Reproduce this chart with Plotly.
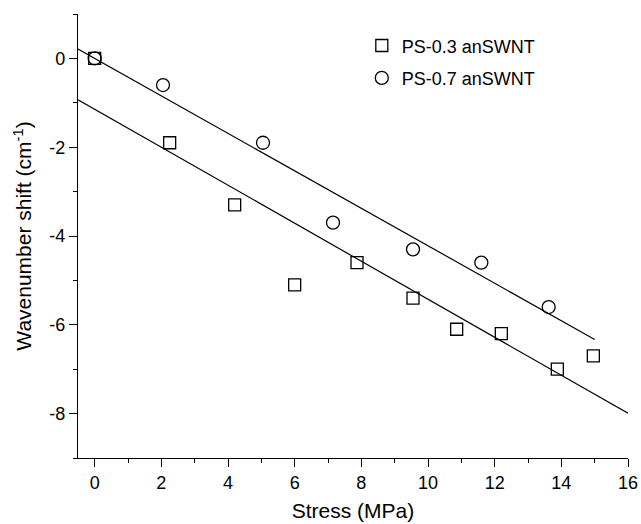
import numpy as np
import plotly.graph_objects as go

# PS-0.3 anSWNT (squares)
stress_03 = [0.0, 2.25, 4.2, 6.0, 7.87, 9.55, 10.86, 12.2, 13.88, 14.96]
shift_03 = [0.0, -1.9, -3.3, -5.1, -4.6, -5.4, -6.1, -6.2, -7.0, -6.7]

# PS-0.7 anSWNT (circles)
stress_07 = [0.0, 2.05, 5.05, 7.15, 9.55, 11.6, 13.62]
shift_07 = [0.0, -0.6, -1.9, -3.7, -4.3, -4.6, -5.6]

# linear fits (slope, intercept, x extent)
fit_03 = {"slope": -0.428, "intercept": -1.144, "x": [-0.5, 16.0]}
fit_07 = {"slope": -0.422, "intercept": 0.0, "x": [-0.5, 15.0]}

# tick labels
x_tickvals = [0, 2, 4, 6, 8, 10, 12, 14, 16]
x_ticktext = ["0", "2", "4", "6", "8", "10", "12", "14", "16"]
y_tickvals = [0, -2, -4, -6, -8]
y_ticktext = ["0", "-2", "-4", "-6", "-8"]

font = "Arial, Liberation Sans, sans-serif"

fig = go.Figure()

for fit in (fit_03, fit_07):
    xs = np.array(fit["x"])
    ys = fit["slope"] * xs + fit["intercept"]
    fig.add_trace(go.Scatter(x=xs, y=ys, mode="lines", showlegend=False,
                             line=dict(color="black", width=1.2), hoverinfo="skip"))

fig.add_trace(go.Scatter(x=stress_03, y=shift_03, mode="markers", name="PS-0.3 anSWNT",
                         legendgroup="a",
                         marker=dict(symbol="square-open", size=12, color="black",
                                     line=dict(width=1.3, color="black"))))
fig.add_trace(go.Scatter(x=stress_07, y=shift_07, mode="markers", name="PS-0.7 anSWNT",
                         legendgroup="b",
                         marker=dict(symbol="circle-open", size=13, color="black",
                                     line=dict(width=1.3, color="black"))))

axis_common = dict(showline=True, linecolor="black", linewidth=1.3, ticks="outside",
                   ticklen=8, tickwidth=1.3, tickcolor="black", showgrid=False,
                   zeroline=False, tickfont=dict(size=18, color="black", family=font),
                   mirror=False, automargin=False)

fig.update_xaxes(range=[-0.5, 16], tickmode="array", tickvals=x_tickvals, ticktext=x_ticktext,
                 minor=dict(ticks="outside", ticklen=4, dtick=1, tick0=0,
                            tickcolor="black", tickwidth=1.3),
                 title=dict(text="Stress (MPa)", font=dict(size=21, color="black", family=font),
                            standoff=11),
                 **axis_common)
fig.update_yaxes(range=[-9, 1], tickmode="array", tickvals=y_tickvals, ticktext=y_ticktext,
                 minor=dict(ticks="outside", ticklen=4, dtick=1, tick0=0,
                            tickcolor="black", tickwidth=1.3),
                 title=dict(text="Wavenumber shift (cm<sup>-1</sup>)",
                            font=dict(size=21, color="black", family=font), standoff=11),
                 **axis_common)

fig.update_layout(
    width=641, height=524,
    margin=dict(l=78, r=13, t=14, b=66),
    plot_bgcolor="white", paper_bgcolor="white",
    font=dict(family=font, color="black"),
    legend=dict(x=0.516, y=0.97, xanchor="left", yanchor="top",
                font=dict(size=18, color="black", family=font),
                traceorder="grouped", tracegroupgap=6,
                bgcolor="rgba(0,0,0,0)"),
)

fig.write_html("out.html")
